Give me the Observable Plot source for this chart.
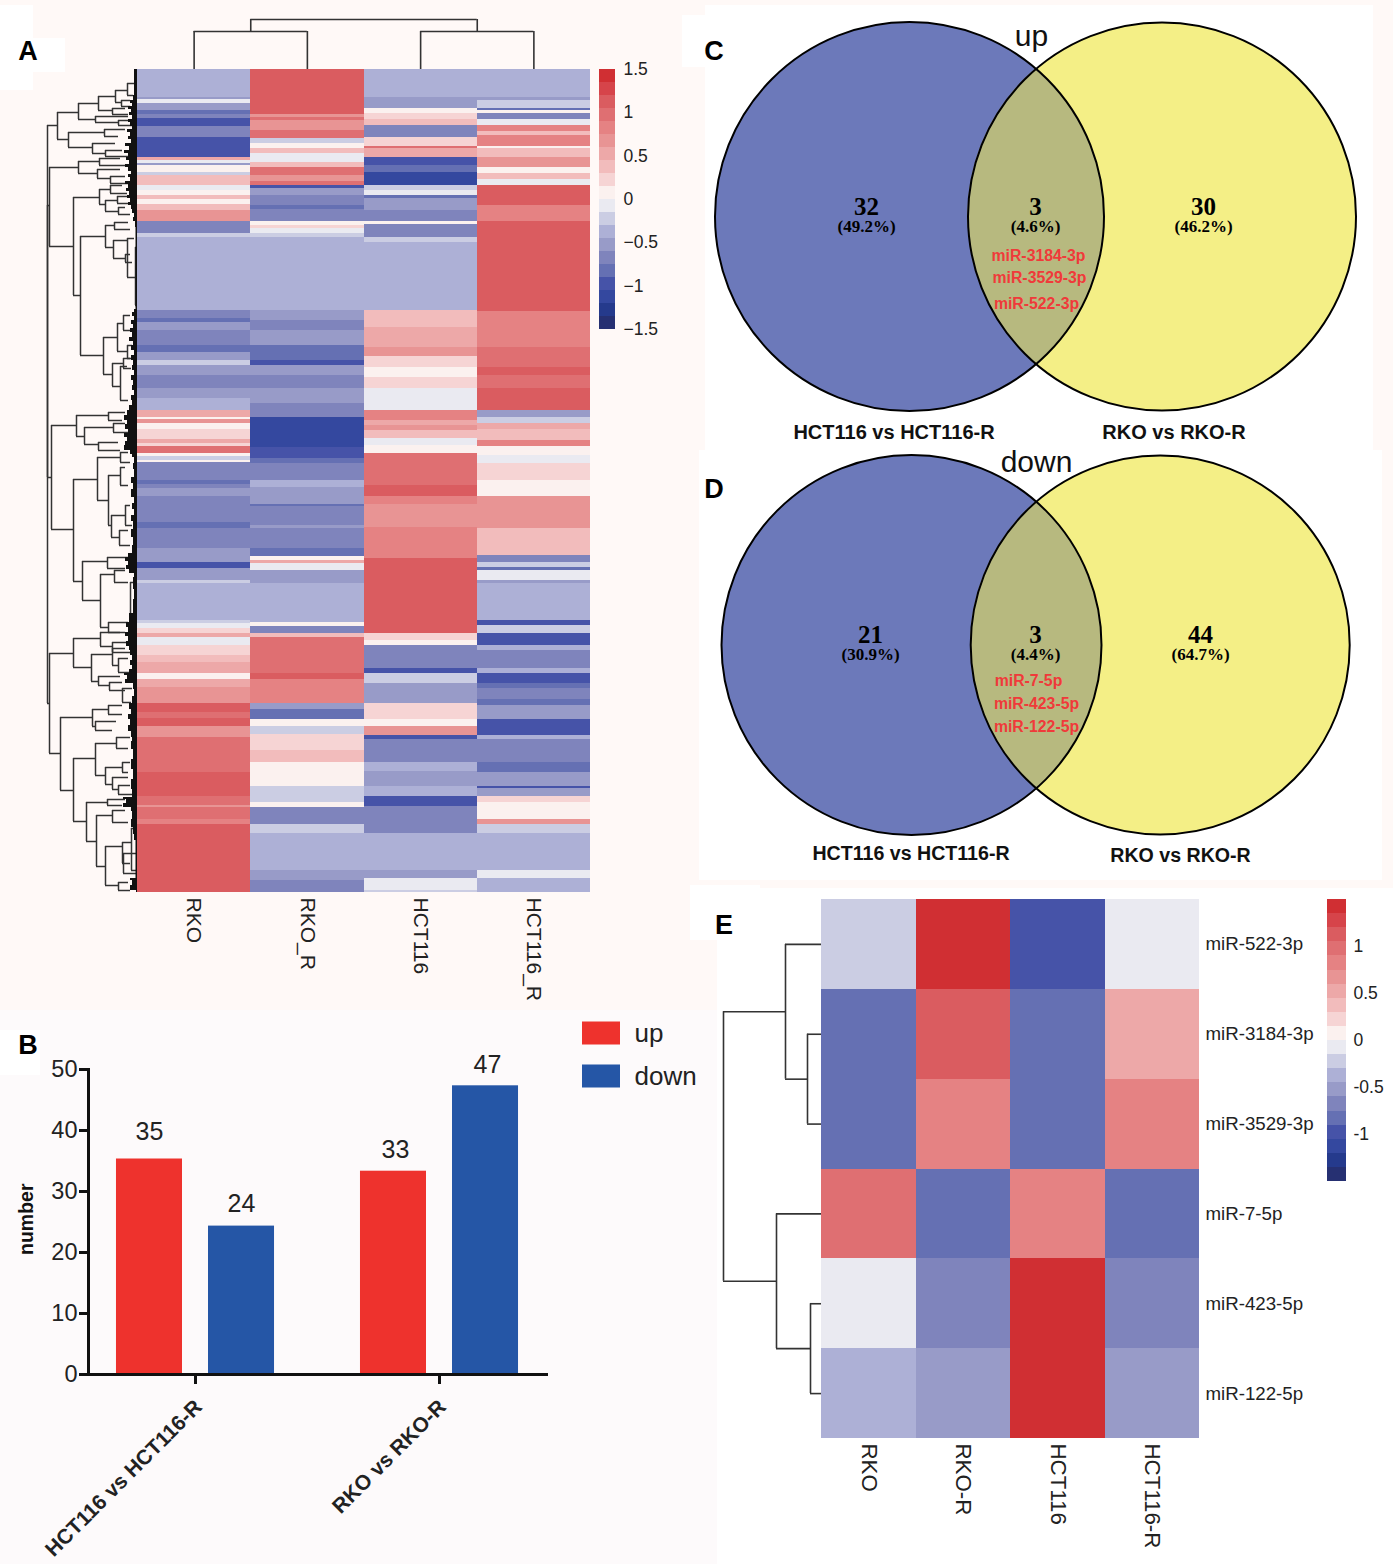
<!DOCTYPE html>
<html><head><meta charset="utf-8">
<script src="https://cdn.jsdelivr.net/npm/d3@7"></script>
<script src="https://cdn.jsdelivr.net/npm/@observablehq/plot@0.6"></script>
<style>
html,body{margin:0;padding:0;background:#fff9f7;}
#page{position:relative;width:1393px;height:1564px;overflow:hidden;font-family:"Liberation Sans",sans-serif;background:#fff9f7;}
#page svg{position:absolute;overflow:visible;background:transparent;}
.bg{position:absolute;}
.tag{position:absolute;font:bold 27px "Liberation Sans",sans-serif;color:#000;line-height:1;transform:translate(-50%,-50%);}
</style></head><body><div id="page"></div>
<script>
// ---------- shared colour key ----------
const breakpoints = [-1.35,-1.2,-1.05,-0.9,-0.75,-0.6,-0.45,-0.3,-0.15,0,0.15,0.3,0.45,0.6,0.75,0.9,1.05,1.2,1.35];
const palette = ["#263072","#253a8c","#34489f","#4653a8","#6570b3","#7f84bc","#989bc8","#adb0d6","#cbcde3","#eaeaf1",
  "#fbf1ef","#f6d4d4","#f2bcbc","#eda8a8","#e89494","#e58283","#df6f72","#da5c60","#d6444a","#d02f33"];
const colorOpt = {type:"threshold",domain:breakpoints,range:palette};

// ---------- panel A: runs of [rows, z-score] per column, top to bottom ----------
const colNames = ["RKO","RKO_R","HCT116","HCT116_R"];
const runsRKO = [[28,-.4],[2,-.5],[4,-.15],[7,-.55],[4,-.85],[4,-.65],[8,-1.05],[11,-.65],[6,-.95],[14,-1.05],[3,.45],[3,-.1],[2,-.55],[7,.05],[3,-.2],[5,.3],[5,.4],[5,-.1],[5,.05],[4,.3],[5,.05],[6,.35],[11,.6],[12,-.65],[4,-.25],[73,-.4],[8,-.65],[4,-.8],[8,-.6],[8,-.7],[7,-.65],[7,-.8],[6,-.6],[2,-.5],[5,-.2],[10,-.6],[13,-.65],[10,-.55],[5,-.45],[7,-.4],[7,.55],[2,.05],[4,.65],[6,.05],[10,.25],[4,.5],[3,.25],[7,.95],[3,.05],[4,-.2],[2,.05],[18,-.7],[4,-.85],[4,-.65],[8,-.55],[26,-.65],[6,-.8],[20,-.7],[9,-.5],[5,-.6],[6,-1],[12,-.6],[3,-.25],[37,-.4],[3,-.3],[5,-.1],[5,.2],[4,.45],[8,-.1],[10,.2],[7,.3],[11,.5],[6,.05],[8,.5],[16,.6],[9,1.1],[6,.95],[8,1.05],[11,.65],[25,1],[10,.95],[24,1.1],[9,.9],[2,.7],[12,1],[5,.75],[68,1.1]];
const runsRKOR = [[45,1.1],[3,.6],[3,1],[10,.65],[8,1],[5,-.3],[5,.05],[5,.35],[9,-.1],[5,.3],[8,1],[6,.6],[4,.9],[3,-1],[7,-.6],[10,-.65],[4,-.85],[12,-.65],[4,.1],[3,.2],[5,-.1],[4,-.3],[73,-.4],[10,-.6],[10,-.65],[15,-.6],[15,-.8],[5,-1],[10,-.55],[13,-.65],[15,-.5],[14,-.65],[30,-1.1],[11,-1],[5,-.8],[17,-.65],[7,-.4],[9,-.55],[8,-.6],[2,-.85],[19,-.65],[3,-.5],[20,-.7],[8,-.85],[4,.05],[3,.5],[7,-.15],[13,-.5],[39,-.4],[4,.05],[7,-.75],[4,.3],[36,1],[6,1.15],[24,.75],[6,-.5],[10,-.8],[7,.05],[8,-.3],[16,.2],[12,.4],[10,.1],[14,.05],[16,-.25],[5,.05],[17,-.75],[9,-.25],[37,-.4],[10,-.5],[12,-.7]];
const runsHCT = [[28,-.4],[11,-.6],[5,.05],[6,.25],[6,.35],[12,-.65],[9,.25],[2,.95],[9,.5],[8,-1.05],[7,-.9],[13,-1.1],[5,-.2],[5,-.1],[3,-.9],[12,-.55],[11,-.65],[3,.05],[13,-.65],[5,-.2],[68,-.4],[17,.4],[20,.5],[9,.65],[11,.25],[10,.05],[11,.2],[22,-.1],[10,.85],[5,.55],[5,.7],[8,.35],[7,-.15],[8,.1],[17,1],[15,.95],[11,1.1],[8,.75],[23,.65],[31,.85],[5,1.1],[70,1.1],[7,.25],[5,.05],[23,-.7],[5,-.95],[10,-.3],[4,-.5],[16,-.6],[16,.15],[7,.05],[9,.7],[4,-1],[23,-.65],[9,-.45],[15,-.6],[10,-.4],[10,-.95],[27,-.65],[37,-.4],[8,-.5],[12,-.1],[2,-.3]];
const runsHCTR = [[28,-.4],[3,-.5],[8,-.2],[2,-.9],[3,.05],[6,-.75],[6,-.1],[6,.8],[4,.4],[11,.85],[2,.05],[9,.35],[10,.7],[6,.05],[6,.35],[6,-.1],[20,1.05],[16,.85],[90,1.1],[36,.85],[20,1],[8,1.1],[13,.95],[22,1.1],[7,-.6],[6,-.2],[6,.55],[11,.35],[6,.75],[9,.1],[8,-.1],[17,.25],[16,.05],[32,.6],[27,.4],[7,-.7],[5,-.3],[3,-.9],[10,-.15],[3,-.55],[37,-.4],[5,-1],[8,-.3],[12,-1.05],[5,-.4],[18,-.7],[5,-.45],[10,-.95],[5,-.8],[11,-.65],[6,-.8],[14,-.6],[16,-1],[4,-.35],[23,-.65],[10,-.9],[14,-.55],[2,-1],[8,-.5],[6,.25],[17,.05],[5,.6],[9,-.2],[37,-.4],[8,-.05],[14,-.4]];

// row dendrogram of A: [branch height, row of arm 1, row of arm 2, height arm 1 ends at, height arm 2 ends at]
const rowMerges = [[90,56,634,80,88],[90,136,408,88,86],[80,43,70,59,69],[59,34,50,39,42],[39,27,41,22,25],[22,21,33,10,16],[10,14,26,2,4],[2,1,21,0,0],[16,31,37,7,7],[25,39,45,12,9],[42,47,53,9,19],[19,51,56,7,5],[69,63,78,33,45],[33,60,67,12,19],[45,74,84,22,32],[32,81,87,15,9],
[88,98,177,59,64],[59,92,104,38,40],[38,89,96,17,12],[40,100,109,17,27],[27,107,114,12,9],[64,128,226,38,57],[38,120,135,27,32],[27,116,124,15,10],[32,131,142,20,19],[20,127,134,9,7],[19,138,145,12,7],[57,167,286,32,34],[32,156,178,23,24],[23,153,160,9,7],[24,171,189,10,12],[12,185,193,7,5],[10,169,208,3,2],[2,178,236,0,0],[34,268,305,20,25],[20,254,282,14,10],[14,246,261,7,5],[10,276,289,5,6],[25,294,317,14,17],[14,289,299,7,6],[17,297,331,10,9],
[86,356,460,61,64],[61,346,367,29,53],[29,343,351,12,15],[53,358,375,24,39],[24,354,363,12,9],[39,373,381,19,17],[64,410,512,40,55],[40,388,431,17,29],[17,383,393,9,7],[29,406,456,17,26],[17,398,416,12,9],[26,446,468,12,18],[12,436,456,7,5],[18,461,476,9,7],[55,492,531,30,37],[30,488,499,9,12],[37,505,558,23,29],[23,501,513,12,9],[7,513,551,2,1],[29,553,563,9,12],
[88,584,684,64,77],[64,569,598,37,46],[37,563,577,17,25],[25,573,583,11,7],[46,585,612,25,39],[25,579,596,12,19],[19,589,603,9,7],[39,607,616,17,28],[28,613,621,15,12],[15,619,633,5,6],[77,648,721,45,64],[45,640,657,29,42],[29,636,645,15,15],[42,652,661,21,25],[64,689,752,42,51],[42,674,706,21,32],[21,668,679,7,9],[32,698,715,15,25],[15,693,703,7,9],[25,708,720,9,19],[19,716,725,7,5],[51,733,772,30,41],[30,730,736,12,15],[41,746,797,25,32],[25,741,753,12,9],[32,777,816,15,19],[15,773,794,6,7],[6,759,801,1,1],[14,784,804,1,1],[19,813,821,9,7]];
// extent of the densely packed leaf merges along the rows: [row, height]
const leafFringe = [[0,2],[26,3],[31,4],[34,7],[37,5],[40,9],[43,6],[46,8],[50,5],[53,9],[57,7],[60,5],[63,10],[67,7],[70,9],[74,6],[77,12],[81,8],[84,13],[88,9],[91,11],[95,8],[98,12],[102,9],[105,6],[108,9],[112,7],[115,12],[119,9],[122,11],[126,8],[129,10],[133,7],[136,9],[140,6],[144,5],[148,3],[152,4],[158,2],[171,1.5],[240,1.5],[243,3],[247,5],[251,3],[255,6],[259,4],[263,7],[268,5],[272,8],[276,4],[281,6],[286,3],[291,6],[296,4],[301,5],[306,3],[311,6],[316,4],[321,5],[326,3],[331,6],[336,5],[341,8],[346,10],[351,13],[355,10],[360,12],[364,9],[368,13],[372,10],[376,12],[381,13],[385,7],[388,5],[394,3],[400,4],[408,3],[414,6],[420,4],[428,6],[434,3],[440,5],[446,3],[452,6],[460,4],[468,6],[476,4],[484,5],[488,9],[492,12],[496,9],[500,11],[504,8],[508,3],[520,4],[530,3],[544,4],[553,8],[558,11],[563,9],[567,12],[572,9],[577,11],[581,8],[586,7],[591,5],[596,7],[600,5],[604,8],[606,13],[610,10],[614,12],[620,4],[627,3],[634,5],[640,8],[645,6],[650,9],[656,7],[662,9],[668,6],[672,5],[680,6],[690,4],[700,6],[710,4],[720,6],[728,5],[730,14],[734,11],[738,14],[742,6],[750,5],[758,6],[765,4],[771,3],[775,1.5],[809,1.5],[811,7],[816,5],[821,7],[823,1]];
// column dendrogram of A: [height, column pos 1, column pos 2, end 1, end 2]
const colMerges = [[38,.5,1.5,0,0],[38,2.5,3.5,0,0],[50,1,3,38,38]];
const barTicksA = [1.5,1,.5,0,-.5,-1,-1.5];

// ---------- panel B ----------
const contrasts = ["HCT116 vs HCT116-R","RKO vs RKO-R"];
const directions = ["up","down"];
const upCounts = [35,33];
const downCounts = [24,47];
const dirColors = ["#ee322d","#2556a6"];

// ---------- panels C, D ----------
const vennColors = ["#6c79ba","#f4ef86"];
const lensColor = "#b7b97f";
const vennC = [[209,216,194.5],[461.5,216,194]];
const vennD = [[211,204.5,190],[459.7,204.5,189.5]];
const countsC = [["32",166,206],["3",335,206],["30",503,206]];
const pctsC = [["(49.2%)",166,226],["(4.6%)",335,226],["(46.2%)",503,226]];
const mirC = [["miR-3184-3p",338,255],["miR-3529-3p",339,277],["miR-522-3p",336,303]];
const setsC = [["HCT116 vs HCT116-R",193.5,432],["RKO vs RKO-R",473.5,432]];
const titleC = [["up",331,36]];
const countsD = [["21",170,194],["3",335,194],["44",500,194]];
const pctsD = [["(30.9%)",170,214],["(4.4%)",335,214],["(64.7%)",500,214]];
const mirD = [["miR-7-5p",328,240],["miR-423-5p",336,263],["miR-122-5p",336,286]];
const setsD = [["HCT116 vs HCT116-R",210.5,413.5],["RKO vs RKO-R",480,415]];
const titleD = [["down",336,22]];

// ---------- panel E ----------
const samplesE = ["RKO","RKO-R","HCT116","HCT116-R"];
const mirsE = ["miR-522-3p","miR-3184-3p","miR-3529-3p","miR-7-5p","miR-423-5p","miR-122-5p"];
const valuesE = [[-.25,1.45,-1,-.1],[-.85,1.15,-.85,.5],[-.85,.8,-.85,.85],[1,-.85,.8,-.85],[-.1,-.7,1.45,-.7],[-.4,-.55,1.45,-.55]];
const mergesE = [[98,1.25,4.25,36,45],[36,.5,2,0,14],[14,1.5,2.5,0,0],[45,3.5,5,0,11],[11,4.5,5.5,0,0]];
const barTicksE = [1,.5,0,-.5,-1];

// ---------- helpers ----------
const page = document.getElementById("page");
const FONT = "Liberation Sans";
const SERIF = "Liberation Serif";
function place(svg,left,top){svg.style.left=left+"px";svg.style.top=top+"px";page.appendChild(svg);return svg;}
function bg(l,t,w,h,c){const d=document.createElement("div");d.className="bg";d.style.cssText+=`left:${l}px;top:${t}px;width:${w}px;height:${h}px;background:${c}`;page.appendChild(d);}
function tag(s,x,y){const d=document.createElement("div");d.className="tag";d.textContent=s;d.style.left=x+"px";d.style.top=y+"px";page.appendChild(d);}
function stepsOf(){const e=[-1.5,...breakpoints,1.5];return d3.pairs(e).map(([a,b])=>({a,b,m:(a+b)/2}));}
const base = {margin:0,style:{background:"transparent",fontFamily:FONT}};

// Backing patches of the composite figure
bg(0,1010,717,554,"#fdfafb");
bg(705,5,668,445,"#fff");
bg(699,450,683,430,"#fff");
bg(717,888,676,676,"#fff");
bg(690,885,70,55,"#fff");
bg(0,5,33,85,"#fff"); bg(0,38,65,34,"#fff");
bg(682,15,30,52,"#fff");
bg(0,1030,40,45,"#fff");

// ---------- A ----------
function toRows(runs,col){let r=0;return runs.map(([n,v])=>{const o={col,r0:r,r1:r+n,v};r+=n;return o;});}
const rowsA = [runsRKO,runsRKOR,runsHCT,runsHCTR].flatMap((rr,i)=>toRows(rr,colNames[i]));
place(Plot.plot({...base,width:453,height:823+115,marginBottom:115,
  x:{domain:colNames,padding:0,round:false,label:null},
  y:{domain:[0,823],range:[0,823],axis:null},
  color:colorOpt,
  marks:[
    Plot.barY(rowsA,{x:"col",y1:"r0",y2:"r1",fill:"v",shapeRendering:"crispEdges"}),
    Plot.axisX({tickRotate:90,tickSize:0,tickPadding:5,fontSize:21,fill:"#222",label:null})
  ]}),137,69);

function treeMarks(merges,stroke,sw,horizontalLeaves){
  if(horizontalLeaves) return [
    Plot.ruleX(merges,{x:d=>d[0],y1:d=>d[1],y2:d=>d[2],stroke,strokeWidth:sw}),
    Plot.ruleY(merges,{y:d=>d[1],x1:d=>d[0],x2:d=>d[3],stroke,strokeWidth:sw}),
    Plot.ruleY(merges,{y:d=>d[2],x1:d=>d[0],x2:d=>d[4],stroke,strokeWidth:sw})];
  return [
    Plot.ruleY(merges,{y:d=>d[0],x1:d=>d[1],x2:d=>d[2],stroke,strokeWidth:sw}),
    Plot.ruleX(merges,{x:d=>d[1],y1:d=>d[0],y2:d=>d[3],stroke,strokeWidth:sw}),
    Plot.ruleX(merges,{x:d=>d[2],y1:d=>d[0],y2:d=>d[4],stroke,strokeWidth:sw})];
}
place(Plot.plot({...base,width:97,height:823,
  x:{domain:[97,0],range:[0,97],axis:null},y:{domain:[0,823],range:[0,823],axis:null},
  marks:[...treeMarks(rowMerges,"#333",1.5,true),
    Plot.areaX(leafFringe,{y:d=>d[0],x:d=>d[1],curve:"step-after",fill:"#111"})]}),40,69);
place(Plot.plot({...base,width:453,height:50,
  x:{domain:[0,4],range:[0,453],axis:null},y:{domain:[50,0],range:[0,50],axis:null},
  marks:treeMarks(colMerges,"#333",1.6,false)}),137,19);

function colorBar(ticks,fmt,wBar,h,fs,pad){
  return Plot.plot({...base,width:wBar,height:h,marginRight:0,
    x:{domain:["key"],padding:0,round:false,axis:null},
    y:{domain:[-1.5,1.5],range:[h,0],axis:null},
    color:colorOpt,
    marks:[Plot.barY(stepsOf(),{x:()=>"key",y1:"a",y2:"b",fill:"m",shapeRendering:"crispEdges"}),
      Plot.axisY({anchor:"right",ticks,tickSize:0,tickPadding:pad,fontSize:fs,fill:"#222",tickFormat:fmt,label:null})]});
}
place(colorBar(barTicksA,d=>String(d).replace("-","\u2212"),16,260,17.5,8),599,69);

// ---------- B ----------
const barsB = contrasts.flatMap((c,i)=>[{c,dir:directions[0],n:upCounts[i]},{c,dir:directions[1],n:downCounts[i]}]);
const valueText = {fx:"c",x:"dir",y:"n",text:d=>String(d.n),fontSize:25,fill:"#222"};
place(Plot.plot({...base,width:700,height:554,marginTop:59,marginBottom:190,marginLeft:88,marginRight:154,
  fx:{domain:contrasts,paddingInner:30/244,paddingOuter:0,round:false,label:null},
  x:{domain:directions,paddingInner:26/92,paddingOuter:.304,round:false,axis:null},
  y:{domain:[0,50],label:null},
  color:{domain:directions,range:dirColors},
  marks:[
    Plot.barY(barsB,{fx:"c",x:"dir",y:"n",fill:"dir",insetTop:-2}),
    Plot.text(barsB.filter(d=>d.n===35),{...valueText,dy:-29.5}),
    Plot.text(barsB.filter(d=>d.n===24),{...valueText,dy:-24.5}),
    Plot.text(barsB.filter(d=>d.c===contrasts[1]),{...valueText,dy:-23,dx:2}),
    Plot.frame({anchor:"left",facet:"super",stroke:"#111",strokeWidth:3}),
    Plot.frame({anchor:"bottom",facet:"super",stroke:"#111",strokeWidth:3}),
    Plot.axisY({tickSize:9,strokeWidth:3,stroke:"#111",ticks:[0,10,20,30,40,50],tickPadding:2,fontSize:23.5,fill:"#222",label:null}),
    Plot.axisFx({anchor:"bottom",tickSize:10,strokeWidth:3,stroke:"#111",label:null,tick:true,text:null}),
    Plot.axisFx({anchor:"bottom",tickSize:0,tickRotate:-45,tickPadding:18,dx:3,dy:11,fontSize:21,fontWeight:"bold",fill:"#222",label:null}),
    Plot.text(["number"],{frameAnchor:"left",dx:-62,dy:33,rotate:-90,facet:"super",fontWeight:"bold",fontSize:19.5,fill:"#111"})
  ]}),0,1010);
place(Plot.plot({...base,width:130,height:90,
  x:{domain:["swatch","label"],padding:0,round:false,range:[12,88],axis:null},
  y:{domain:directions,paddingInner:.465,paddingOuter:0,round:false,range:[11.5,77.5],axis:null},
  color:{domain:directions,range:dirColors},
  marks:[Plot.cell(directions,{x:()=>"swatch",y:d=>d,fill:d=>d}),
    Plot.text(directions,{x:()=>"label",y:d=>d,text:d=>d,dx:-5,textAnchor:"start",fontSize:26,fill:"#222"})]}),570,1010);

// ---------- C, D ----------
function venn(circles,counts,pcts,mirs,sets,title,w,h,setSize){
  const [[ax,cy,ar],[bx,,br]] = circles;
  const half = Math.sqrt(ar*ar-((ar*ar-br*br+(bx-ax)*(bx-ax))/(2*(bx-ax)))**2);
  const lens = d3.range(-half,half+.25,.5).map(dy=>({y:cy+dy,a:bx-Math.sqrt(Math.max(0,br*br-dy*dy)),b:ax+Math.sqrt(Math.max(0,ar*ar-dy*dy))}));
  const t=(arr,o)=>Plot.text(arr,{x:d=>d[1],y:d=>d[2],text:d=>d[0],...o});
  return Plot.plot({...base,width:w,height:h,
    x:{domain:[0,w],range:[0,w],axis:null},y:{domain:[0,h],range:[0,h],axis:null},r:{type:"identity"},
    marks:[
      Plot.dot(circles,{x:d=>d[0],y:d=>d[1],r:d=>d[2],fill:(d,i)=>vennColors[i]}),
      Plot.areaX(lens,{y:"y",x1:"a",x2:"b",fill:lensColor}),
      Plot.dot(circles,{x:d=>d[0],y:d=>d[1],r:d=>d[2],stroke:"#000",strokeWidth:2,fill:"none"}),
      t(counts,{fontFamily:SERIF,fontWeight:"bold",fontSize:25,fill:"#000"}),
      t(pcts,{fontFamily:SERIF,fontWeight:"bold",fontSize:17,fill:"#000"}),
      t(mirs,{fontFamily:FONT,fontWeight:"bold",fontSize:15.8,fill:"#f03a3a"}),
      t(sets,{fontFamily:FONT,fontWeight:"bold",fontSize:setSize,fill:"#111"}),
      t(title,{fontFamily:FONT,fontSize:30,fill:"#111"})
    ]});
}
place(venn(vennC,countsC,pctsC,mirC,setsC,titleC,693,440,20),700,0);
place(venn(vennD,countsD,pctsD,mirD,setsD,titleD,693,450,19.6),700,440);

// ---------- E ----------
const cellsE = mirsE.flatMap((m,i)=>samplesE.map((s,j)=>({m,s,v:valuesE[i][j]})));
place(Plot.plot({...base,width:378+125,height:539+125,marginRight:125,marginBottom:125,
  x:{domain:samplesE,padding:0,round:false,label:null},
  y:{domain:mirsE,padding:0,round:false,label:null},
  color:colorOpt,
  marks:[Plot.cell(cellsE,{x:"s",y:"m",fill:"v",shapeRendering:"crispEdges"}),
    Plot.axisX({tickRotate:90,tickSize:0,tickPadding:5,fontSize:22.3,fill:"#222",label:null}),
    Plot.axisY({anchor:"right",tickSize:0,tickPadding:6,fontSize:18.7,fill:"#222",label:null})]}),821,899);
place(Plot.plot({...base,width:103,height:539,
  x:{domain:[103,0],range:[0,103],axis:null},y:{domain:[0,6],range:[0,539],axis:null},
  marks:treeMarks(mergesE,"#333",1.6,true)}),718,899);
place(colorBar(barTicksE,d=>String(d),19,282,17.5,7),1327,899);

tag("A",28,51);tag("B",28,1045);tag("C",714,51);tag("D",714,489);tag("E",724,925);
</script></body></html>
